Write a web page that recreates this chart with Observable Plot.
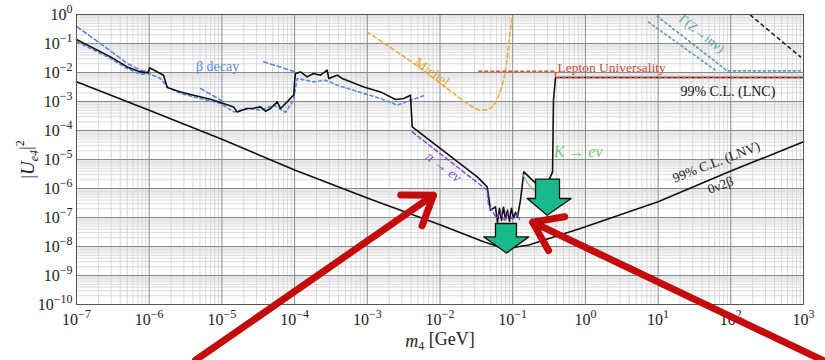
<!DOCTYPE html>
<html><head><meta charset="utf-8">
<script src="https://cdn.jsdelivr.net/npm/d3@7"></script>
<script src="https://cdn.jsdelivr.net/npm/@observablehq/plot@0.6"></script>
<style>body{margin:0;background:#fff}#chart{width:825px;height:360px}</style>
</head><body><div id="chart"></div>
<script>
// Tick exponents
const xTickExps = [-7,-6,-5,-4,-3,-2,-1,0,1,2,3];
const yTickExps = [-10,-9,-8,-7,-6,-5,-4,-3,-2,-1,0];

// Curves as [log10 m4/GeV, log10 |Ue4|^2]
const lncBound = [[-7.000,-0.862],[-6.532,-1.462],[-6.303,-1.807],[-6.120,-1.979],[-6.010,-2.007],[-5.996,-1.834],[-5.803,-2.093],[-5.752,-2.517],[-5.569,-2.669],[-5.391,-2.783],[-5.157,-2.921],[-4.978,-3.069],[-4.840,-3.186],[-4.790,-3.359],[-4.652,-3.241],[-4.565,-3.231],[-4.469,-3.186],[-4.400,-3.334],[-4.331,-3.241],[-4.239,-3.014],[-4.194,-3.241],[-4.102,-3.014],[-4.043,-2.852],[-4.011,-2.783],[-4.001,-2.334],[-3.988,-2.034],[-3.919,-1.979],[-3.827,-2.152],[-3.740,-2.034],[-3.644,-2.093],[-3.552,-1.921],[-3.530,-2.207],[-3.414,-2.093],[-3.345,-2.207],[-3.048,-2.497],[-2.818,-2.669],[-2.612,-2.931],[-2.498,-2.897],[-2.406,-2.783],[-2.382,-3.876],[-1.488,-5.600],[-1.351,-5.945],[-1.305,-6.748],[-1.237,-6.634],[-1.209,-7.162],[-1.182,-6.679],[-1.154,-7.093],[-1.127,-6.645],[-1.099,-7.059],[-1.072,-6.748],[-1.044,-7.128],[-1.017,-6.679],[-0.989,-7.024],[-0.961,-6.817],[-0.934,-6.990],[-0.893,-6.403],[-0.847,-5.428],[-0.686,-5.817],[-0.508,-5.748],[-0.452,-5.438],[-0.439,-2.955],[-0.411,-2.172],[3.000,-2.172]];
const lnvBound = [[-7,-2.32],[-6,-3.30],[-5,-4.30],[-4,-5.36],[-3,-6.33],[-2,-7.25],[-1.4,-7.84],[-1.2,-8.0],[-1.1,-8.05],[-0.95,-8.02],[-0.78,-7.95],[-0.07,-7.38],[1,-6.46],[2,-5.40],[3,-4.39]];
const betaMain = [[-6.990,-0.945],[-6.532,-1.517],[-6.303,-1.862],[-6.120,-2.059],[-6.005,-2.034],[-5.845,-2.207],[-5.752,-2.497],[-5.569,-2.724],[-5.387,-2.841],[-5.019,-3.069],[-4.836,-3.359],[-4.652,-3.241],[-4.469,-3.300],[-4.286,-3.128],[-4.125,-3.369],[-4.015,-2.955],[-3.964,-2.207],[-3.736,-2.324],[-3.575,-2.266],[-3.414,-2.438],[-3.048,-2.724],[-2.818,-2.897],[-2.589,-3.128],[-2.406,-2.955],[-2.199,-2.783]];
const betaUpper1 = [[-6.990,-0.428],[-6.670,-1.000],[-6.303,-1.690],[-6.120,-1.921],[-6.005,-1.979]];
const betaUpper2 = [[-5.294,-2.552],[-4.974,-3.014]];
const betaUpper3 = [[-4.424,-1.634],[-3.988,-1.979]];
const michel = [[-3.001,-0.600],[-2.360,-1.690],[-1.901,-2.552],[-1.626,-3.069],[-1.443,-3.300],[-1.282,-3.186],[-1.168,-2.610],[-1.099,-1.921],[-1.054,-1.000],[-1.007,-0.083]];
const leptonUniv = [[-1.466,-1.955],[-0.411,-1.955],[-0.411,-2.172],[3.000,-2.172]];
const zInvA = [[0.988,-0.059],[1.950,-1.945],[3.000,-1.945]];
const zInvB = [[0.868,-0.266],[1.803,-1.945]];
const topRightDashed = [[2.271,-0.024],[2.959,-1.462]];
const piEnu = [[-2.382,-4.048],[-1.351,-6.059],[-1.333,-6.576],[-1.305,-6.672],[-1.223,-7.024],[-1.168,-6.817],[-1.113,-7.093],[-1.058,-6.852],[-1.003,-7.059],[-0.948,-6.886],[-0.906,-7.059]];
const kEnu = [[-0.869,-5.483],[-0.796,-5.817],[-0.710,-6.059]];

// Annotation shapes (green arrows polygons, red arrows start/end)
const greenArrow1 = [[-1.237,-7.207],[-0.948,-7.207],[-0.948,-7.669],[-0.779,-7.669],[-1.085,-8.221],[-1.398,-7.669],[-1.237,-7.669],[-1.237,-7.207]];
const greenArrow2 = [[-0.686,-5.679],[-0.356,-5.679],[-0.356,-6.345],[-0.195,-6.345],[-0.526,-6.921],[-0.801,-6.345],[-0.686,-6.345],[-0.686,-5.679]];
const redArrows = [[-5.363,-11.92,-2.09,-6.23],[3.26,-11.92,-0.728,-7.16]];

// Labels
const labelTexts = ["β decay","Michel","Lepton Universality","Γ(Z→inv)","99% C.L. (LNC)","π → eν","K → eν","99% C.L. (LNV)","0ν2β"];
const labelLogM = [-5.06,-2.11,0.36,1.60,1.96,-1.95,-0.10,1.80,1.86];
const labelLogU = [-1.80,-1.98,-1.83,-0.66,-2.65,-5.26,-4.75,-5.09,-5.89];

const P = a => a.map(([lx, ly]) => ({x: 10 ** lx, y: 10 ** ly}));
const majorX = xTickExps.map(e => 10 ** e);
const majorY = yTickExps.map(e => 10 ** e);
const minorX = xTickExps.slice(0, -1).flatMap(e => d3.range(2, 10).map(k => k * 10 ** e));
const minorY = yTickExps.slice(0, -1).flatMap(e => d3.range(2, 10).map(k => k * 10 ** e));

const serif = "'Liberation Serif', 'DejaVu Serif', serif";
const labelStyles = [
  {fill:"#5b86e5", size:14, rotate:0},
  {fill:"#e0a93a", size:14, rotate:36},
  {fill:"#d04535", size:13.5, rotate:0},
  {fill:"#5a9ea0", size:13, rotate:38},
  {fill:"#111", size:14, rotate:0},
  {fill:"#7a4fd6", size:14, rotate:37},
  {fill:"#78c878", size:16, rotate:0},
  {fill:"#222", size:13.5, rotate:-21},
  {fill:"#222", size:13.5, rotate:-21}
];
const labelMarks = labelTexts.map((t, i) => Plot.text([{x: 10 ** labelLogM[i], y: 10 ** labelLogU[i]}], {
  x: "x", y: "y", text: () => t, fill: labelStyles[i].fill, fontSize: labelStyles[i].size, fontFamily: serif,
  rotate: labelStyles[i].rotate, fontStyle: (i === 5 || i === 6) ? "italic" : "normal"
}));

const line = (a, o) => Plot.line(P(a), {x: "x", y: "y", ...o});

const chart = Plot.plot({
  width: 825, height: 360,
  marginLeft: 76, marginRight: 22, marginTop: 14, marginBottom: 56,
  style: {fontFamily: serif, fontSize: "16px", background: "#fff", color: "#222"},
  x: {type: "log", domain: [1e-7, 1e3]},
  y: {type: "log", domain: [1e-10, 1]},
  marks: [
    Plot.ruleX(minorX, {stroke: "#cfcfcf", strokeWidth: 0.8}),
    Plot.ruleY(minorY, {stroke: "#cfcfcf", strokeWidth: 0.8}),
    Plot.ruleX(majorX, {stroke: "#8a8a8a", strokeWidth: 1}),
    Plot.ruleY(majorY, {stroke: "#8a8a8a", strokeWidth: 1}),
    Plot.axisX(majorX, {tickSize: 0, tickPadding: 9, fontSize: 16, tickFormat: d => String(Math.round(Math.log10(d))), label: "m4 [GeV]", labelAnchor: "center", labelArrow: "none", labelOffset: 42}),
    Plot.axisY(majorY, {tickSize: 0, tickPadding: 4, fontSize: 16, tickFormat: d => String(Math.round(Math.log10(d))), label: "|Ue4|2", labelAnchor: "center", labelArrow: "none", labelOffset: 56}),
    line(betaMain, {stroke: "#5b86e5", strokeWidth: 1.6, strokeDasharray: "3,3"}),
    line(betaUpper1, {stroke: "#5b86e5", strokeWidth: 1.6, strokeDasharray: "4,3"}),
    line(betaUpper2, {stroke: "#5b86e5", strokeWidth: 1.6, strokeDasharray: "4,3"}),
    line(betaUpper3, {stroke: "#5b86e5", strokeWidth: 1.6, strokeDasharray: "4,3"}),
    line(michel, {stroke: "#e8b040", strokeWidth: 1.6, strokeDasharray: "4,3", curve: "catmull-rom"}),
    line(zInvA, {stroke: "#5a9ea0", strokeWidth: 1.6, strokeDasharray: "2,3"}),
    line(zInvB, {stroke: "#5a9ea0", strokeWidth: 1.6, strokeDasharray: "2,3"}),
    line(topRightDashed, {stroke: "#222", strokeWidth: 1.6, strokeDasharray: "3,4"}),
    line(lnvBound, {stroke: "#111", strokeWidth: 1.6}),
    line(lncBound, {stroke: "#111", strokeWidth: 1.6}),
    line(leptonUniv, {stroke: "#e0503a", strokeWidth: 1.6, strokeDasharray: "3,3"}),
    line(piEnu, {stroke: "#7a4fd6", strokeWidth: 1.5, strokeDasharray: "4,3"}),
    line(kEnu, {stroke: "#78c878", strokeWidth: 1.3}),
    Plot.frame({stroke: "#555"}),
    ...labelMarks,
    line(greenArrow1, {fill: "#19b98b", stroke: "#111", strokeWidth: 1.3}),
    line(greenArrow2, {fill: "#19b98b", stroke: "#111", strokeWidth: 1.3}),
    Plot.arrow(redArrows, {x1: d => 10 ** d[0], y1: d => 10 ** d[1], x2: d => 10 ** d[2], y2: d => 10 ** d[3], stroke: "#c30b0b", strokeWidth: 7, headLength: 7, headAngle: 70})
  ]
});

// superscript formatting of tick labels
const sup = e => e.replace("-", "\u2212");
chart.querySelectorAll('[aria-label="x-axis tick label"] text, [aria-label="y-axis tick label"] text').forEach(t => {
  const e = t.textContent;
  t.innerHTML = `10<tspan font-size="12" dy="-0.55em">${sup(e)}</tspan>`;
});
const xl = chart.querySelector('[aria-label="x-axis label"] text');
if (xl) { xl.innerHTML = '<tspan font-style="italic">m</tspan><tspan font-size="12" dy="0.3em">4</tspan><tspan dy="-0.3em"> [GeV]</tspan>'; xl.setAttribute("font-size", "18"); }
const yl = chart.querySelector('[aria-label="y-axis label"] text');
if (yl) { yl.innerHTML = '|<tspan font-style="italic">U</tspan><tspan font-size="12" dy="0.35em" font-style="italic">e4</tspan><tspan dy="-0.35em">|</tspan><tspan font-size="12" dy="-0.6em">2</tspan>'; yl.setAttribute("font-size", "19"); }
document.getElementById("chart").appendChild(chart);
</script>
</body></html>
